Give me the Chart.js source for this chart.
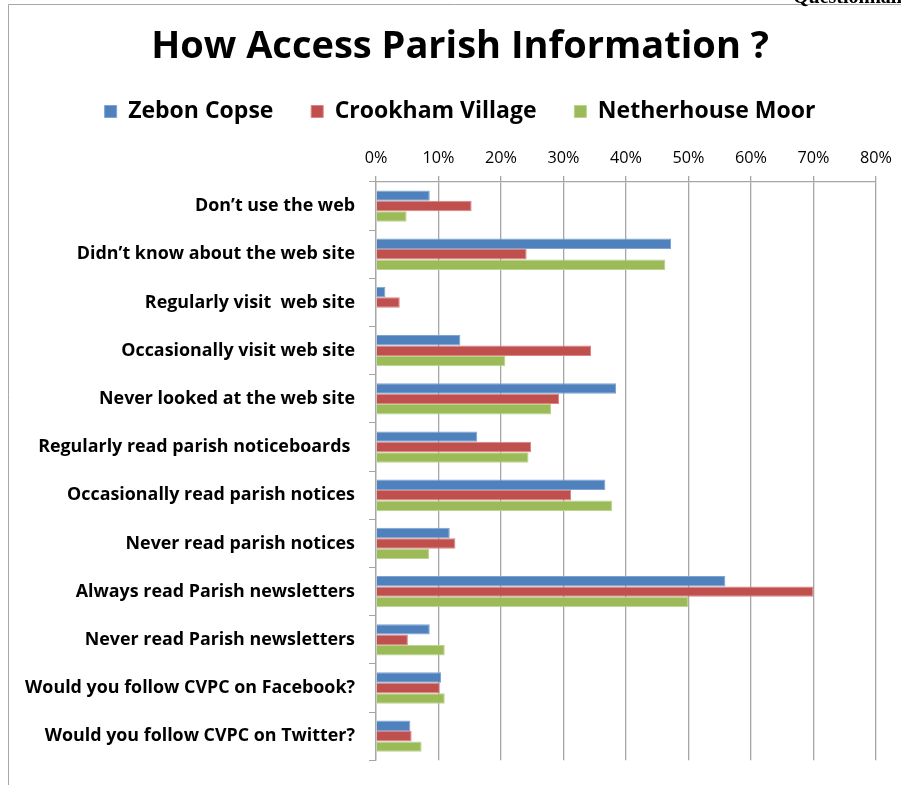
<!DOCTYPE html>
<html>
<head>
<meta charset="utf-8">
<script src="https://cdn.jsdelivr.net/npm/chart.js@4.4.1/dist/chart.umd.min.js"></script>
<style>
  html, body { margin: 0; padding: 0; background: #fff; }
  #wrap { width: 901px; height: 785px; }
</style>
</head>
<body>
<div id="wrap"><canvas id="c" width="901" height="785"></canvas></div>
<script>
const categories = [
  "Don\u2019t use the web",
  "Didn\u2019t know about the web site",
  "Regularly visit  web site",
  "Occasionally visit web site",
  "Never looked at the web site",
  "Regularly read parish noticeboards ",
  "Occasionally read parish notices",
  "Never read parish notices",
  "Always read Parish newsletters",
  "Never read Parish newsletters",
  "Would you follow CVPC on Facebook?",
  "Would you follow CVPC on Twitter?"
];
const seriesNames = ["Zebon Copse", "Crookham Village", "Netherhouse Moor"];
const zebonCopse      = [8.6, 47.2, 1.5, 13.5, 38.4, 16.2, 36.7, 11.8, 55.9, 8.6, 10.4, 5.5];
const crookhamVillage = [15.3, 24.1, 3.8, 34.4, 29.3, 24.8, 31.2, 12.7, 70.0, 5.1, 10.2, 5.7];
const netherhouseMoor = [4.9, 46.3, 0, 20.7, 28.0, 24.4, 37.8, 8.5, 50.0, 11.0, 11.0, 7.3];
const xTickValues = [0, 10, 20, 30, 40, 50, 60, 70, 80];
const titleText = "How Access Parish Information ?";
const cornerText = "Questionnaire";

const FONT = "'Open Sans', 'Noto Sans', 'Liberation Sans', sans-serif";

// choose font sizes so that text widths match the reference
const mctx = document.createElement('canvas').getContext('2d');
function fitSize(text, weight, target) {
  mctx.font = weight + " 100px " + FONT;
  const w = mctx.measureText(text).width;
  return w > 0 ? 100 * target / w : 16;
}
const titleSize = Math.min(40, fitSize(titleText, 'bold', 618));
const legendSize = Math.min(26, fitSize(seriesNames.join(''), 'bold', 565));
const catSize = Math.min(20, fitSize(categories[0], 'bold', 160));
const tickSize = Math.min(18, fitSize('70%', 'normal', 32));

// vertical layout bookkeeping (Chart.js title / legend box heights)
const titleLH = 0.8;
const titlePadTop = 47 - titleSize * titleLH / 2;
const titleH = titlePadTop + titleSize * titleLH;
const legendItemH = Math.max(legendSize, 12);
const legendPad = 111.5 - titleH - legendItemH / 2;
const legendH = legendItemH + legendPad + 10;
const xAxisH = Math.max(6, 182 - titleH - legendH);

const framePlugin = {
  id: 'frame',
  beforeDraw(chart) {
    const ctx = chart.ctx;
    ctx.save();
    ctx.fillStyle = '#ffffff';
    ctx.fillRect(0, 0, chart.width, chart.height);
    ctx.strokeStyle = '#a6a6a6';
    ctx.lineWidth = 1;
    ctx.beginPath();
    ctx.moveTo(8.5, chart.height);
    ctx.lineTo(8.5, 4.5);
    ctx.lineTo(chart.width, 4.5);
    ctx.stroke();
    ctx.fillStyle = '#000';
    ctx.font = "bold 20px 'Liberation Serif', serif";
    ctx.textBaseline = 'alphabetic';
    ctx.fillText(cornerText, 793, 3);
    ctx.restore();
  }
};

new Chart(document.getElementById('c'), {
  type: 'bar',
  data: {
    labels: categories,
    datasets: [
      { label: seriesNames[0], data: zebonCopse, backgroundColor: '#4F81BD', borderColor: '#7FA3D3', borderWidth: 1 },
      { label: seriesNames[1], data: crookhamVillage, backgroundColor: '#C0504D', borderColor: '#D98583', borderWidth: 1 },
      { label: seriesNames[2], data: netherhouseMoor, backgroundColor: '#9BBB59', borderColor: '#BCD38E', borderWidth: 1 }
    ]
  },
  plugins: [framePlugin],
  options: {
    indexAxis: 'y',
    responsive: false,
    animation: false,
    devicePixelRatio: 1,
    layout: { padding: { left: 44, right: 25, top: 0, bottom: 18 } },
    datasets: { bar: { categoryPercentage: 0.65, barPercentage: 1.0 } },
    plugins: {
      title: {
        display: true,
        text: titleText,
        color: '#000',
        font: { family: FONT, size: titleSize, weight: 'bold', lineHeight: titleLH },
        padding: { top: titlePadTop, bottom: 0 }
      },
      legend: {
        display: true,
        position: 'top',
        labels: {
          color: '#000',
          font: { family: FONT, size: legendSize, weight: 'bold' },
          boxWidth: 12,
          boxHeight: 12,
          padding: legendPad
        }
      },
      tooltip: { enabled: false }
    },
    scales: {
      x: {
        position: 'top',
        min: 0,
        max: 80,
        afterBuildTicks(scale) { scale.ticks = xTickValues.map(v => ({ value: v })); },
        afterFit(scale) { scale.height = xAxisH; },
        ticks: {
          color: '#000',
          padding: 8,
          font: { family: FONT, size: tickSize },
          callback: (v) => v + '%'
        },
        grid: { color: '#a6a6a6', lineWidth: 1.3, tickLength: 6 },
        border: { color: '#a6a6a6', width: 1.3 }
      },
      y: {
        afterFit(scale) {
          scale.width = 376 - 44;
          // let long category labels extend left of the scale box without clipping
          scale._computeLabelArea = function () { return undefined; };
        },
        ticks: {
          color: '#000',
          padding: 14,
          font: { family: FONT, size: catSize, weight: 'bold' }
        },
        grid: { drawOnChartArea: false, color: '#a6a6a6', tickLength: 7, offset: true },
        border: { color: '#a6a6a6', width: 1.3 }
      }
    }
  }
});
</script>
</body>
</html>
